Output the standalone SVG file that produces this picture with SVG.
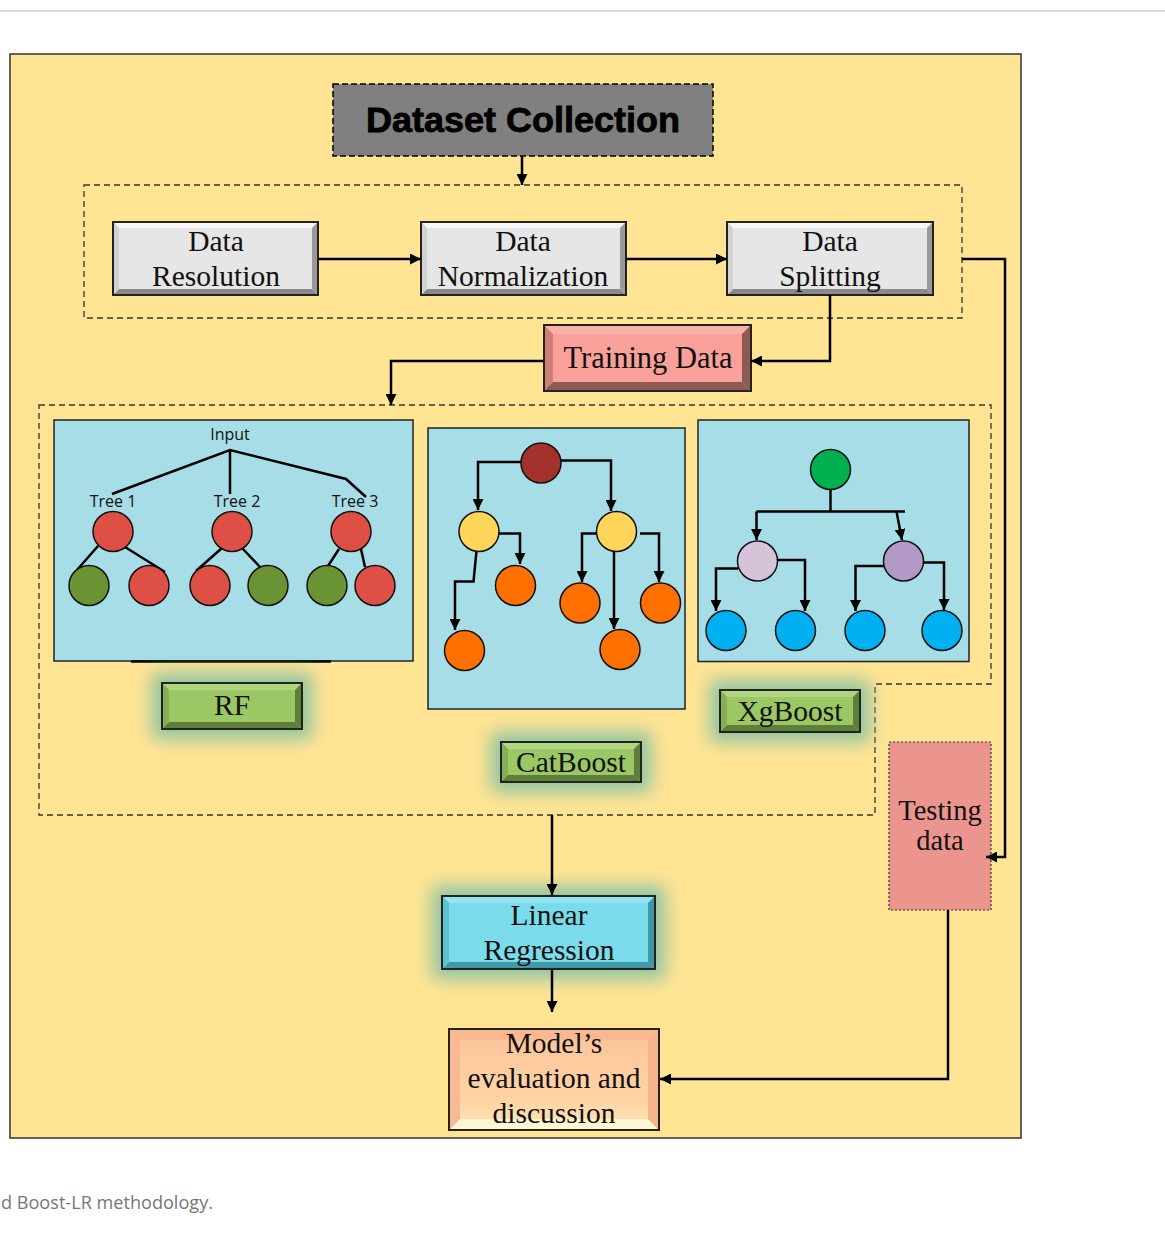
<svg xmlns="http://www.w3.org/2000/svg" width="1165" height="1234" viewBox="0 0 1165 1234">
<style>
.serif{font-family:"Liberation Serif","Times New Roman",serif;fill:#111;text-anchor:middle}
.box{font-size:29.5px}
.sans{font-family:"Open Sans","Liberation Sans",sans-serif;fill:#111;text-anchor:middle;font-size:16px}
.conn{fill:none;stroke:#000;stroke-width:2.5}
.tl{fill:none;stroke:#000;stroke-width:2.5}
.arr{fill:none;stroke:#000;stroke-width:2.5;marker-end:url(#ah)}
.frame{stroke:#222;stroke-width:2}
.dash{fill:none;stroke:#333;stroke-width:1.3;stroke-dasharray:6 4}
.panel{fill:#A6DDE6;stroke:#222;stroke-width:1.5}
.nd{stroke:#111;stroke-width:1.5}
</style>
<defs>
<marker id="ah" viewBox="0 0 10 10" refX="10" refY="5" markerWidth="11" markerHeight="11" markerUnits="userSpaceOnUse" orient="auto"><path d="M0,0 L10,5 L0,10 z" fill="#000"/></marker>
<filter id="glow" x="-40%" y="-80%" width="180%" height="260%"><feGaussianBlur stdDeviation="9"/></filter>
<linearGradient id="peach" x1="0" y1="0" x2="0" y2="1">
<stop offset="0" stop-color="#FBC39A"/>
<stop offset="0.7" stop-color="#FFD3A4"/>
<stop offset="1" stop-color="#FFE6B8"/>
</linearGradient>
</defs>

<rect width="1165" height="1234" fill="#fff"/>
<line x1="0" y1="11" x2="1165" y2="11" stroke="#cfcfcf" stroke-width="1.5"/>

<rect id="outer" x="10" y="54" width="1011" height="1084" fill="#FFE494" stroke="#333" stroke-width="1.5"/>

<!-- dashed groups -->
<rect class="dash" x="84" y="185" width="878" height="133"/>
<path class="dash" d="M39,405 H991 V684 H875 V815 H39 Z"/>

<g id="dataset-collection">
<rect x="333" y="84" width="380" height="72" fill="#808080" stroke="#000" stroke-width="1.5" stroke-dasharray="6 3"/>
<text x="523" y="132" font-family="'Liberation Sans',Arial,sans-serif" font-weight="bold" font-size="35" text-anchor="middle" fill="#000" stroke="#000" stroke-width="0.8" textLength="314" lengthAdjust="spacingAndGlyphs">Dataset Collection</text>
</g>

<g id="data-resolution">
<rect x="113" y="222" width="205" height="73" fill="#E6E6E6" class="frame"/>
<polygon points="114,223 317,223 312,228 119,228" fill="#F7F7F7"/>
<polygon points="114,294 317,294 312,289 119,289" fill="#8A8A8A"/>
<polygon points="114,223 119,228 119,289 114,294" fill="#D2D2D2"/>
<polygon points="317,223 312,228 312,289 317,294" fill="#9A9A9A"/>
<text class="serif box" x="216" y="251">Data</text>
<text class="serif box" x="216" y="286">Resolution</text>
</g>

<g id="data-normalization">
<rect x="421" y="222" width="205" height="73" fill="#E6E6E6" class="frame"/>
<polygon points="422,223 625,223 620,228 427,228" fill="#F7F7F7"/>
<polygon points="422,294 625,294 620,289 427,289" fill="#8A8A8A"/>
<polygon points="422,223 427,228 427,289 422,294" fill="#D2D2D2"/>
<polygon points="625,223 620,228 620,289 625,294" fill="#9A9A9A"/>
<text class="serif box" x="523" y="251">Data</text>
<text class="serif box" x="523" y="286">Normalization</text>
</g>

<g id="data-splitting">
<rect x="727" y="222" width="206" height="73" fill="#E6E6E6" class="frame"/>
<polygon points="728,223 932,223 927,228 733,228" fill="#F7F7F7"/>
<polygon points="728,294 932,294 927,289 733,289" fill="#8A8A8A"/>
<polygon points="728,223 733,228 733,289 728,294" fill="#D2D2D2"/>
<polygon points="932,223 927,228 927,289 932,294" fill="#9A9A9A"/>
<text class="serif box" x="830" y="251">Data</text>
<text class="serif box" x="830" y="286">Splitting</text>
</g>

<g id="training-data">
<rect x="544" y="325" width="207" height="66" fill="#F9A09A" class="frame"/>
<polygon points="545,326 750,326 742,334 553,334" fill="#FBB0AA"/>
<polygon points="545,390 750,390 742,382 553,382" fill="#8D5954"/>
<polygon points="545,326 553,334 553,382 545,390" fill="#CF7F79"/>
<polygon points="750,326 742,334 742,382 750,390" fill="#8D5954"/>
<text class="serif" x="648" y="368" font-size="30.5">Training Data</text>
</g>

<g id="rf-panel">
<rect class="panel" x="54" y="420" width="359" height="241"/>
<line x1="131" y1="661.5" x2="331" y2="661.5" stroke="#000" stroke-width="2.5"/>
<text class="sans" x="230" y="440">Input</text>
<path class="tl" d="M112,494 L230,450 L346,479 L366,497 M230,450 V494"/>
<text class="sans" x="113" y="507">Tree 1</text>
<text class="sans" x="237" y="507">Tree 2</text>
<text class="sans" x="355" y="507">Tree 3</text>
<path class="tl" d="M98,546 L77,570 M125,547 L165,572 M222,548 L196,571 M242,548 L260,567 M339,549 L328,566 M361,549 L365,567"/>
<g class="nd">
<circle cx="113" cy="531.5" r="20" fill="#DE5046"/>
<circle cx="232" cy="531.5" r="20" fill="#DE5046"/>
<circle cx="351" cy="531.5" r="20" fill="#DE5046"/>
<circle cx="89" cy="585.5" r="20" fill="#6A9434"/>
<circle cx="149" cy="585.5" r="20" fill="#DE5046"/>
<circle cx="210" cy="585.5" r="20" fill="#DE5046"/>
<circle cx="268" cy="585.5" r="20" fill="#6A9434"/>
<circle cx="327" cy="585.5" r="20" fill="#6A9434"/>
<circle cx="375" cy="585.5" r="20" fill="#DE5046"/>
</g>
</g>

<g id="catboost-panel">
<rect class="panel" x="428" y="428" width="257" height="281"/>
<path class="arr" d="M522,462 H478 V510"/>
<path class="arr" d="M561,460.5 H611 V511"/>
<path class="arr" d="M499,533.5 H520 V564"/>
<path class="arr" d="M476.5,551 L473.5,581.5 H455 V630"/>
<path class="arr" d="M597,533.5 H582 V582"/>
<path class="arr" d="M614,547 V629"/>
<path class="arr" d="M640,533.5 H659 V582"/>
<g class="nd">
<circle cx="541" cy="463" r="20" fill="#A5312C"/>
<circle cx="479" cy="531.5" r="20" fill="#FFD65A"/>
<circle cx="616.5" cy="531.5" r="20" fill="#FFD65A"/>
<circle cx="515.5" cy="585.5" r="20" fill="#FF7000"/>
<circle cx="464.5" cy="650.5" r="20" fill="#FF7000"/>
<circle cx="580" cy="603" r="20" fill="#FF7000"/>
<circle cx="620" cy="649.5" r="20" fill="#FF7000"/>
<circle cx="660.5" cy="603" r="20" fill="#FF7000"/>
</g>
</g>

<g id="xgboost-panel">
<rect class="panel" x="698" y="420" width="271" height="241.5"/>
<path class="tl" d="M830.5,489 V511.5 M756.5,511.5 H905"/>
<path class="arr" d="M756.5,511.5 V540"/>
<path class="arr" d="M896.5,511.5 L902,540"/>
<path class="arr" d="M738,568.5 H716 V611"/>
<path class="arr" d="M777,560 H805 V611"/>
<path class="arr" d="M884,566 H855.5 V611"/>
<path class="arr" d="M924,562.5 H944 V610"/>
<g class="nd">
<circle cx="830.5" cy="469.5" r="20" fill="#00B050"/>
<circle cx="757.5" cy="561" r="20" fill="#D6C3DA"/>
<circle cx="903.5" cy="561" r="20" fill="#B39AC6"/>
<circle cx="726" cy="630.5" r="20" fill="#00B0F0"/>
<circle cx="795.5" cy="630.5" r="20" fill="#00B0F0"/>
<circle cx="865" cy="630.5" r="20" fill="#00B0F0"/>
<circle cx="942" cy="630.5" r="20" fill="#00B0F0"/>
</g>
</g>

<g id="rf-label">
<rect x="152" y="673" width="160" height="66" fill="#8EC3A0" filter="url(#glow)"/>
<rect x="162" y="683" width="140" height="46" fill="#9BC764" class="frame"/>
<polygon points="163,684 301,684 295,690 169,690" fill="#B0D682"/>
<polygon points="163,728 301,728 295,722 169,722" fill="#5E7F3A"/>
<polygon points="163,684 169,690 169,722 163,728" fill="#86AE55"/>
<polygon points="301,684 295,690 295,722 301,728" fill="#5E7F3A"/>
<text class="serif" x="232" y="715" font-size="29.5">RF</text>
</g>

<g id="catboost-label">
<rect x="491" y="732" width="160" height="60" fill="#8EC3A0" filter="url(#glow)"/>
<rect x="501" y="742" width="140" height="40" fill="#9BC764" class="frame"/>
<polygon points="502,743 640,743 634,749 508,749" fill="#B0D682"/>
<polygon points="502,781 640,781 634,775 508,775" fill="#5E7F3A"/>
<polygon points="502,743 508,749 508,775 502,781" fill="#86AE55"/>
<polygon points="640,743 634,749 634,775 640,781" fill="#5E7F3A"/>
<text class="serif" x="571" y="772" font-size="29.5">CatBoost</text>
</g>

<g id="xgboost-label">
<rect x="710" y="680" width="160" height="62" fill="#8EC3A0" filter="url(#glow)"/>
<rect x="720" y="690" width="140" height="42" fill="#9BC764" class="frame"/>
<polygon points="721,691 859,691 853,697 727,697" fill="#B0D682"/>
<polygon points="721,731 859,731 853,725 727,725" fill="#5E7F3A"/>
<polygon points="721,691 727,697 727,725 721,731" fill="#86AE55"/>
<polygon points="859,691 853,697 853,725 859,731" fill="#5E7F3A"/>
<text class="serif" x="790" y="721" font-size="29.5">XgBoost</text>
</g>

<g id="testing-data">
<rect x="889" y="742" width="102" height="168" fill="#EC958E" stroke="#333" stroke-width="1.2" stroke-dasharray="2 2"/>
<text class="serif" x="940" y="820" font-size="28.5">Testing</text>
<text class="serif" x="940" y="850" font-size="28.5">data</text>
</g>

<g id="linear-regression">
<rect x="432" y="886" width="233" height="93" fill="#8DC3A4" filter="url(#glow)"/>
<rect x="442" y="896" width="213" height="73" fill="#7ADCEB" class="frame"/>
<polygon points="443,897 654,897 648,903 449,903" fill="#92E4F0"/>
<polygon points="443,968 654,968 648,962 449,962" fill="#3E98A6"/>
<polygon points="443,897 449,903 449,962 443,968" fill="#5FC2D1"/>
<polygon points="654,897 648,903 648,962 654,968" fill="#3E98A6"/>
<text class="serif box" x="549" y="925">Linear</text>
<text class="serif box" x="549" y="960">Regression</text>
</g>

<g id="model-evaluation">
<rect x="449" y="1029" width="210" height="101" fill="url(#peach)" class="frame"/>
<polygon points="450,1030 658,1030 648,1040 460,1040" fill="#F9B890"/>
<polygon points="450,1129 658,1129 648,1119 460,1119" fill="#FFF6D4"/>
<polygon points="450,1030 460,1040 460,1119 450,1129" fill="#F9B993"/>
<polygon points="658,1030 648,1040 648,1119 658,1129" fill="#F8B48C"/>
<text class="serif box" x="554" y="1053">Model’s</text>
<text class="serif box" x="554" y="1088">evaluation and</text>
<text class="serif box" x="554" y="1123">discussion</text>
</g>

<g id="connectors">
<path class="arr" d="M522,156 V185"/>
<path class="arr" d="M318,259 H421"/>
<path class="arr" d="M626,259 H727"/>
<path class="arr" d="M830,295 V361 H751"/>
<path class="arr" d="M544,361 H391 V405"/>
<path class="arr" d="M962,259 H1005 V857 H986"/>
<path class="arr" d="M552,815 V895"/>
<path class="arr" d="M552,970 V1012"/>
<path class="arr" d="M948,910 V1079 H660"/>
</g>

<text x="1" y="1209" font-family="'Open Sans','Liberation Sans',sans-serif" font-size="17.5" fill="#777" textLength="212" lengthAdjust="spacingAndGlyphs">d Boost-LR methodology.</text>
</svg>
